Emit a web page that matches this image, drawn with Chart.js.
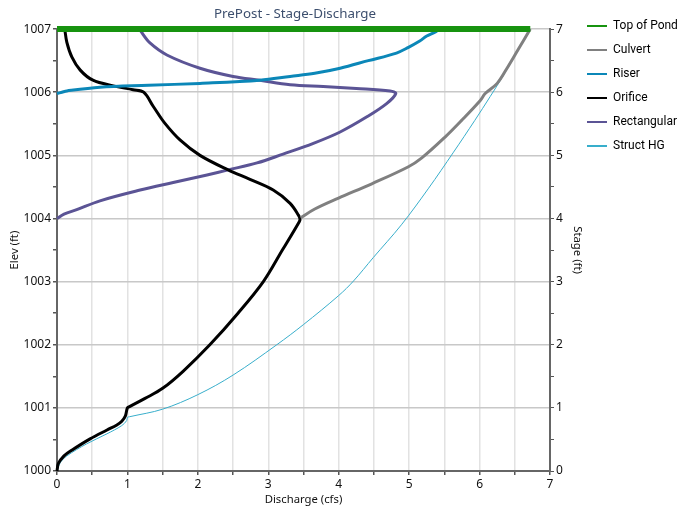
<!DOCTYPE html>
<html>
<head>
<meta charset="utf-8">
<title>PrePost - Stage-Discharge</title>
<script src="https://cdn.jsdelivr.net/npm/chart.js@4"></script>
<style>
  body { margin: 0; background: #fff; }
</style>
</head>
<body>
<canvas id="myChart" width="682" height="510"></canvas>
<script>
// DATA (discharge in cfs, stage in ft)
const pondFlow = [0, 6.72];
const pondStage = [7, 7];

const culvertFlow = [3.46, 3.66, 3.99, 4.47, 4.99, 5.18, 5.51, 5.75, 6.01, 6.08, 6.25, 6.39, 6.55, 6.72];
const culvertStage = [4.01, 4.15, 4.32, 4.55, 4.82, 4.96, 5.29, 5.56, 5.87, 5.98, 6.14, 6.38, 6.68, 7];

const riserFlow = [0, 0.07, 0.14, 0.61, 1.3, 2.03, 2.88, 3.31, 3.66, 4.02, 4.42, 4.82, 4.99, 5.15, 5.25, 5.38, 5.42];
const riserStage = [5.98, 6, 6.02, 6.08, 6.11, 6.14, 6.19, 6.25, 6.3, 6.38, 6.5, 6.62, 6.71, 6.81, 6.89, 6.96, 7];

const orificeFlow = [0, 0.02, 0.1, 0.21, 0.47, 0.71, 0.85, 0.92, 0.97, 1, 1.03, 1.25, 1.5, 1.79, 2.17, 2.57, 2.93, 3.2, 3.44, 3.45, 3.43, 3.31, 3.07, 2.74, 2.43, 2.03, 1.75, 1.53, 1.37, 1.23, 1.08, 0.8, 0.51, 0.33, 0.21, 0.14, 0.11];
const orificeStage = [0, 0.12, 0.24, 0.33, 0.51, 0.65, 0.73, 0.79, 0.87, 1, 1.02, 1.15, 1.31, 1.58, 2, 2.5, 3, 3.5, 3.95, 3.99, 4.05, 4.24, 4.45, 4.62, 4.77, 5, 5.24, 5.51, 5.77, 6, 6.04, 6.1, 6.19, 6.35, 6.56, 6.79, 7];

const rectFlow = [0, 0.1, 0.28, 0.61, 1.18, 1.65, 2.13, 2.43, 2.84, 3.21, 3.64, 4.02, 4.4, 4.68, 4.81, 4.73, 4.25, 3.78, 3.31, 2.88, 2.5, 2.03, 1.56, 1.32, 1.2, 1.18];
const rectStage = [4, 4.07, 4.14, 4.28, 4.45, 4.57, 4.69, 4.77, 4.88, 5.02, 5.19, 5.37, 5.61, 5.82, 5.98, 6.02, 6.06, 6.09, 6.12, 6.19, 6.25, 6.38, 6.59, 6.78, 6.95, 7];

const structFlow = [0, 0.05, 0.14, 0.42, 0.71, 0.92, 0.99, 1, 1.03, 1.5, 2, 2.5, 3.12, 3.5, 4, 4.21, 4.49, 4.89, 5.27, 5.63, 5.93, 6.15, 6.34, 6.55, 6.72];
const structStage = [0, 0.14, 0.24, 0.43, 0.59, 0.72, 0.8, 0.85, 0.86, 0.98, 1.21, 1.52, 2, 2.32, 2.78, 3.01, 3.38, 3.9, 4.47, 5.05, 5.55, 5.93, 6.27, 6.68, 7];

const FONT = "'Noto Sans', sans-serif";

function points(xs, ys) {
  return xs.map(function (x, i) {
    return { x: x, y: ys[i] };
  });
}

function series(label, xs, ys, color, width) {
  return {
    label: label,
    data: points(xs, ys),
    borderColor: color,
    backgroundColor: color,
    borderWidth: width,
    pointRadius: 0,
    tension: 0.35,
    clip: false,
    yAxisID: "y1",
  };
}

function wholeOnly(v) {
  return Number.isInteger(v) ? v : "";
}

// title and legend sit a bit off from where the layout puts them
const nudge = {
  id: "nudge",
  afterLayout: function (chart) {
    chart.titleBlock.left = 214;
    chart.titleBlock.right = 376;
    chart.legend.top += 8;
  },
};

const ctx = document.getElementById("myChart");

new Chart(ctx, {
  type: "line",
  data: {
    datasets: [
      series("Top of Pond", pondFlow, pondStage, "#17930f", 6),
      series("Culvert", culvertFlow, culvertStage, "#808080", 3),
      series("Riser", riserFlow, riserStage, "#0b87b8", 3),
      series("Orifice", orificeFlow, orificeStage, "#000000", 3),
      series("Rectangular", rectFlow, rectStage, "#5b5495", 3),
      series("Struct HG", structFlow, structStage, "#38aecb", 1),
    ],
  },
  options: {
    responsive: false,
    animation: false,
    layout: { padding: { top: 0, right: 0, bottom: 3, left: 8 } },
    plugins: {
      title: {
        display: true,
        text: "PrePost - Stage-Discharge",
        color: "#3d4f6e",
        font: { family: FONT, size: 13.4, weight: "normal" },
        padding: { top: 6, bottom: 7 },
      },
      legend: {
        position: "right",
        align: "start",
        maxWidth: 107,
        labels: {
          boxWidth: 20,
          boxHeight: 2,
          padding: 12,
          color: "#111",
          font: { family: "Roboto, sans-serif", size: 12 },
          generateLabels: function (chart) {
            return chart.data.datasets.map(function (d, i) {
              return { text: d.label, fillStyle: d.borderColor, strokeStyle: d.borderColor, lineWidth: 0, datasetIndex: i };
            });
          },
        },
      },
      tooltip: { enabled: false },
    },
    scales: {
      x: {
        type: "linear",
        position: "bottom",
        min: 0,
        max: 7,
        title: { display: true, text: "Discharge (cfs)", color: "#111", font: { family: FONT, size: 11.3 }, padding: 0 },
        border: { color: "#666", width: 2 },
        grid: { color: "#e2e2e2", lineWidth: 1.5, tickColor: "#555", tickLength: 4 },
        ticks: {
          stepSize: 0.5,
          maxRotation: 0,
          autoSkip: false,
          color: "#111",
          font: { family: FONT, size: 12 },
          padding: 2,
          callback: wholeOnly,
        },
      },
      y: {
        type: "linear",
        position: "left",
        min: 1000,
        max: 1007,
        afterFit: function (scale) { scale.width = 49; },
        title: { display: true, text: "Elev (ft)", color: "#111", font: { family: FONT, size: 11.3 }, padding: 0 },
        border: { color: "#666", width: 2 },
        grid: {
          color: function (c) { return Number.isInteger(c.tick.value) ? "#c8c8c8" : "transparent"; },
          lineWidth: 1.5,
          tickColor: "#555",
          tickLength: 4,
        },
        ticks: {
          stepSize: 0.5,
          autoSkip: false,
          color: "#111",
          font: { family: FONT, size: 12 },
          padding: 2,
          callback: wholeOnly,
        },
      },
      y1: {
        type: "linear",
        position: "right",
        min: 0,
        max: 7,
        afterFit: function (scale) { scale.width = 25; },
        title: { display: true, text: "Stage (ft)", color: "#111", font: { family: FONT, size: 11.3 }, padding: { top: -9, bottom: 0 } },
        border: { color: "#666", width: 2 },
        grid: { drawOnChartArea: false, tickColor: "#555", tickLength: 4 },
        ticks: {
          stepSize: 0.5,
          autoSkip: false,
          color: "#111",
          font: { family: FONT, size: 12 },
          padding: 2,
          callback: wholeOnly,
        },
      },
    },
  },
  plugins: [nudge],
});
</script>
</body>
</html>
